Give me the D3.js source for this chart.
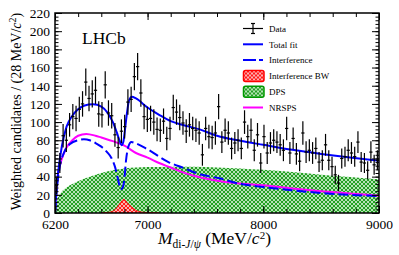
<!DOCTYPE html>
<html>
<head>
<meta charset="utf-8">
<title>di-J/psi mass spectrum</title>
<script src="https://d3js.org/d3.v7.min.js"></script>
<style>
  body { margin: 0; background: #fff; }
  text { font-family: "Liberation Serif", "DejaVu Serif", serif; }
</style>
</head>
<body>
<div id="chart"></div>
<script>
// bins of 28 MeV from 6200 to 9000
let binWidth = 28;
let binCenters = d3.range(100).map(i => 6214 + binWidth * i);

let dataValues = [
  30, 55, 85, 80, 97, 106, 104, 114, 120, 144,
  126, 131, 135, 109, 108, 141, 110, 107, 86, 72,
  90, 95, 122, 125, 150, 161, 132, 106, 103, 104,
  100, 92, 91, 101, 82, 93, 116, 111, 105, 99,
  90, 97, 93, 91, 88, 64, 93, 84, 83, 88,
  117, 78, 91, 88, 71, 77, 80, 71, 100, 84,
  91, 69, 86, 55, 84, 66, 77, 80, 78, 75,
  69, 93, 66, 82, 65, 57, 88, 67, 69, 66,
  71, 56, 58, 75, 58, 51, 42, 33, 60, 62,
  69, 66, 62, 78, 56, 55, 47, 67, 53, 58
];
let dataErrors = [
  9, 11, 13, 13, 13, 14, 14, 14, 14, 15,
  14, 15, 15, 14, 14, 15, 14, 14, 13, 12,
  13, 13, 14, 14, 15, 15, 15, 14, 14, 14,
  14, 13, 13, 14, 13, 13, 14, 14, 14, 13,
  13, 13, 13, 13, 13, 12, 13, 13, 13, 13,
  14, 12, 13, 13, 12, 12, 12, 12, 13, 13,
  13, 12, 13, 11, 13, 12, 12, 12, 12, 12,
  12, 13, 12, 12, 12, 11, 13, 12, 12, 12,
  12, 11, 11, 12, 11, 11, 10, 9, 11, 11,
  12, 12, 11, 12, 11, 11, 10, 12, 11, 11
];

// fit components, [mass, value]
let totalFit = [[6200,0],[6210,22],[6230,48],[6260,74],[6300,95],[6350,107],[6400,114],[6450,118],
  [6530,119.5],[6600,117],[6650,111],[6700,100],[6733,89],[6760,79],[6775,74.5],[6790,78],[6805,92],
  [6820,108],[6840,124],[6865,128],[6900,126],[7000,116],[7100,108],[7200,101],[7300,97],[7450,92],
  [7600,85],[7800,79.5],[8000,75],[8250,69.5],[8500,65],[8750,61],[9000,57.5]];
let interference = [[6200,0],[6215,25],[6240,50],[6280,67],[6330,76],[6400,80],[6450,81],[6500,80],
  [6550,77],[6600,73],[6650,67],[6690,60],[6718,51],[6747,36],[6768,26],[6785,28],[6800,38],[6814,58],
  [6834,73],[6860,78],[6890,77],[7000,70],[7180,56],[7300,50],[7470,42],[7610,38.5],[7800,32],
  [8000,28.5],[8250,25],[8500,22],[8750,20],[9000,18.5]];
let interferenceBW = [[6600,0],[6650,0.5],[6700,2],[6735,6],[6765,11],[6795,15],[6825,11],[6860,7],
  [6900,3],[6950,1],[7000,0.5],[7100,0]];
let dps = [[6200,0],[6205,8],[6220,15],[6250,22],[6300,28],[6400,35],[6500,40],[6600,44],[6700,47],
  [6800,49],[6900,50],[7000,50.5],[7200,51],[7400,51],[7600,50],[7800,49],[8000,47.5],[8250,45],
  [8500,42],[8750,39.5],[9000,37]];
let nrsps = [[6200,0],[6210,25],[6230,45],[6260,60],[6300,72],[6350,80],[6400,85],[6470,87],[6550,85],
  [6600,83],[6700,79],[6800,74],[6900,66],[7000,61],[7100,55],[7200,50],[7300,45],[7400,41],[7500,38],
  [7600,35.5],[7800,32.5],[8000,30.5],[8250,27],[8500,24],[8750,21.5],[9000,19]];

let yMajor = d3.range(0, 221, 20);
let yMinor = d3.range(0, 221, 4);
let xLabels = [6200, 7000, 8000, 9000];
let xMinor = d3.range(6200, 9001, 200);

let margin = {top: 13, right: 20, bottom: 42, left: 55};
let w = 399 - margin.left - margin.right;
let h = 255 - margin.top - margin.bottom;

let root = d3.select("#chart").append("svg")
    .attr("width", 399).attr("height", 255);
let defs = root.append("defs");

// checkerboard fill like ROOT's fill style 3001
function hatch(id, dark, light) {
  let p = defs.append("pattern").attr("id", id)
      .attr("width", 4).attr("height", 4)
      .attr("patternUnits", "userSpaceOnUse");
  p.append("rect").attr("width", 4).attr("height", 4).attr("fill", dark);
  p.append("rect").attr("width", 2).attr("height", 2).attr("fill", light);
  p.append("rect").attr("x", 2).attr("y", 2).attr("width", 2).attr("height", 2).attr("fill", light);
}
hatch("greenHatch", "#23a023", "#b4e3b4");
hatch("redHatch", "#ff1a1a", "#ffb0b0");

defs.append("clipPath").attr("id", "plotClip")
  .append("rect").attr("width", w).attr("height", h);

let svg = root.append("g")
    .attr("transform", "translate(" + margin.left + "," + margin.top + ")");

let x = d3.scaleLinear().domain([6200, 9000]).range([0, w]);
let y = d3.scaleLinear().domain([0, 220]).range([h, 0]);

let plot = svg.append("g").attr("clip-path", "url(#plotClip)");

let area = d3.area().curve(d3.curveMonotoneX)
    .x(d => x(d[0])).y0(y(0)).y1(d => y(d[1]));
let line = d3.line().curve(d3.curveMonotoneX)
    .x(d => x(d[0])).y(d => y(d[1]));

plot.append("path").datum(dps).attr("d", area).attr("fill", "url(#greenHatch)");
plot.append("path").datum(interferenceBW).attr("d", area).attr("fill", "url(#redHatch)")
    .attr("stroke", "#ff0000").attr("stroke-width", 0.8);

plot.append("path").datum(nrsps).attr("d", line)
    .attr("fill", "none").attr("stroke", "#ff00ff").attr("stroke-width", 2);
plot.append("path").datum(interference).attr("d", line)
    .attr("fill", "none").attr("stroke", "#0000ff").attr("stroke-width", 2)
    .attr("stroke-dasharray", "10,4");
plot.append("path").datum(totalFit).attr("d", line)
    .attr("fill", "none").attr("stroke", "#0000ff").attr("stroke-width", 2);

// data points with error bars
let pts = plot.selectAll("g.pt")
    .data(binCenters.map((m, i) => ({m: m, v: dataValues[i], e: dataErrors[i]})))
    .enter().append("g").attr("class", "pt")
    .attr("stroke", "#000").attr("stroke-width", 1.2);
pts.append("line")
    .attr("x1", d => x(d.m)).attr("x2", d => x(d.m))
    .attr("y1", d => y(d.v - d.e)).attr("y2", d => y(d.v + d.e));
pts.append("line")
    .attr("x1", d => x(d.m - binWidth / 2)).attr("x2", d => x(d.m + binWidth / 2))
    .attr("y1", d => y(d.v)).attr("y2", d => y(d.v));

// axes, ticks inward on all four sides
function ticks(axis, values, size) {
  return axis.tickValues(values).tickSizeInner(size).tickSizeOuter(0).tickFormat("");
}
let leftAx = svg.append("g").call(ticks(d3.axisLeft(y), yMinor, -3.5));
leftAx.append("g").call(d3.axisLeft(y).tickValues(yMajor).tickSizeInner(-7).tickSizeOuter(0)
    .tickPadding(5).tickFormat(d3.format("d")));
let rightAx = svg.append("g").attr("transform", "translate(" + w + ",0)")
    .call(ticks(d3.axisRight(y), yMinor, -3.5));
rightAx.append("g").call(ticks(d3.axisRight(y), yMajor, -7));
let bottomAx = svg.append("g").attr("transform", "translate(0," + h + ")")
    .call(ticks(d3.axisBottom(x), xMinor, -4));
bottomAx.append("g").call(d3.axisBottom(x).tickValues(xLabels).tickSizeInner(-7).tickSizeOuter(0)
    .tickPadding(6).tickFormat(d3.format("d")));
let topAx = svg.append("g").call(ticks(d3.axisTop(x), xMinor, -4));
topAx.append("g").call(ticks(d3.axisTop(x), xLabels, -7));

svg.selectAll(".domain").remove();
svg.selectAll(".tick line").attr("stroke", "#000").attr("stroke-width", 1);
svg.selectAll(".tick text")
    .attr("font-family", "Liberation Serif").attr("font-size", "13.5px").attr("fill", "#000");

svg.append("rect").attr("width", w).attr("height", h)
    .attr("fill", "none").attr("stroke", "#000").attr("stroke-width", 1.5);

// LHCb label
svg.append("text").attr("x", 27).attr("y", 31)
    .attr("font-size", "17.5px").text("LHCb");

// y title
let yt = svg.append("text")
    .attr("transform", "rotate(-90)")
    .attr("x", -98.5).attr("y", -34.5)
    .attr("text-anchor", "middle").attr("font-size", "14px");
yt.append("tspan").text("Weighted candidates / (28 MeV/");
yt.append("tspan").attr("font-style", "italic").text("c");
yt.append("tspan").attr("font-size", "10px").attr("dy", -5).text("2");
yt.append("tspan").attr("dy", 5).text(")");

// x title
let xt = svg.append("text").attr("x", 103).attr("y", h + 31).attr("font-size", "17.5px");
xt.append("tspan").attr("font-style", "italic").text("M");
xt.append("tspan").attr("font-size", "11.5px").attr("dy", 4).text("di-");
xt.append("tspan").attr("font-size", "11.5px").attr("font-style", "italic").text("J");
xt.append("tspan").attr("font-size", "11.5px").text("/");
xt.append("tspan").attr("font-size", "11.5px").attr("font-style", "italic").text("ψ");
xt.append("tspan").attr("dy", -4).text(" (MeV/");
xt.append("tspan").attr("font-style", "italic").text("c");
xt.append("tspan").attr("font-size", "11px").attr("dy", -5).text("2");
xt.append("tspan").attr("dy", 5).text(")");

// legend
let lg = svg.append("g").attr("transform", "translate(" + (243 - margin.left) + "," + (28.5 - margin.top) + ")");
let legendNames = ["Data", "Total fit", "Interference", "Interference BW", "DPS", "NRSPS"];
let rowH = 15.8;
legendNames.forEach((name, i) => {
  let cy = i * rowH;
  lg.append("text").attr("x", 26).attr("y", cy + 3.2)
      .attr("font-size", "9px").text(name);
});
let d0 = lg.append("g").attr("stroke", "#000").attr("stroke-width", 1.2);
d0.append("line").attr("x1", 0).attr("x2", 20).attr("y1", 0).attr("y2", 0);
d0.append("line").attr("x1", 10).attr("x2", 10).attr("y1", -5).attr("y2", 5);
d0.append("line").attr("x1", 8).attr("x2", 12).attr("y1", -5).attr("y2", -5);
d0.append("line").attr("x1", 8).attr("x2", 12).attr("y1", 5).attr("y2", 5);
lg.append("line").attr("x1", 0).attr("x2", 20).attr("y1", rowH).attr("y2", rowH)
    .attr("stroke", "#0000ff").attr("stroke-width", 2);
lg.append("line").attr("x1", 0).attr("x2", 20).attr("y1", 2 * rowH).attr("y2", 2 * rowH)
    .attr("stroke", "#0000ff").attr("stroke-width", 2).attr("stroke-dasharray", "13,3");
lg.append("rect").attr("x", 0.5).attr("y", 3 * rowH - 5.5).attr("width", 20.5).attr("height", 11).attr("rx", 2)
    .attr("fill", "url(#redHatch)").attr("stroke", "#ff0000").attr("stroke-width", 1.5);
lg.append("rect").attr("x", 0.5).attr("y", 4 * rowH - 5.5).attr("width", 20.5).attr("height", 11).attr("rx", 2)
    .attr("fill", "url(#greenHatch)").attr("stroke", "#009a00").attr("stroke-width", 1.5);
lg.append("line").attr("x1", 0).attr("x2", 20).attr("y1", 5 * rowH).attr("y2", 5 * rowH)
    .attr("stroke", "#ff00ff").attr("stroke-width", 2);
</script>
</body>
</html>
